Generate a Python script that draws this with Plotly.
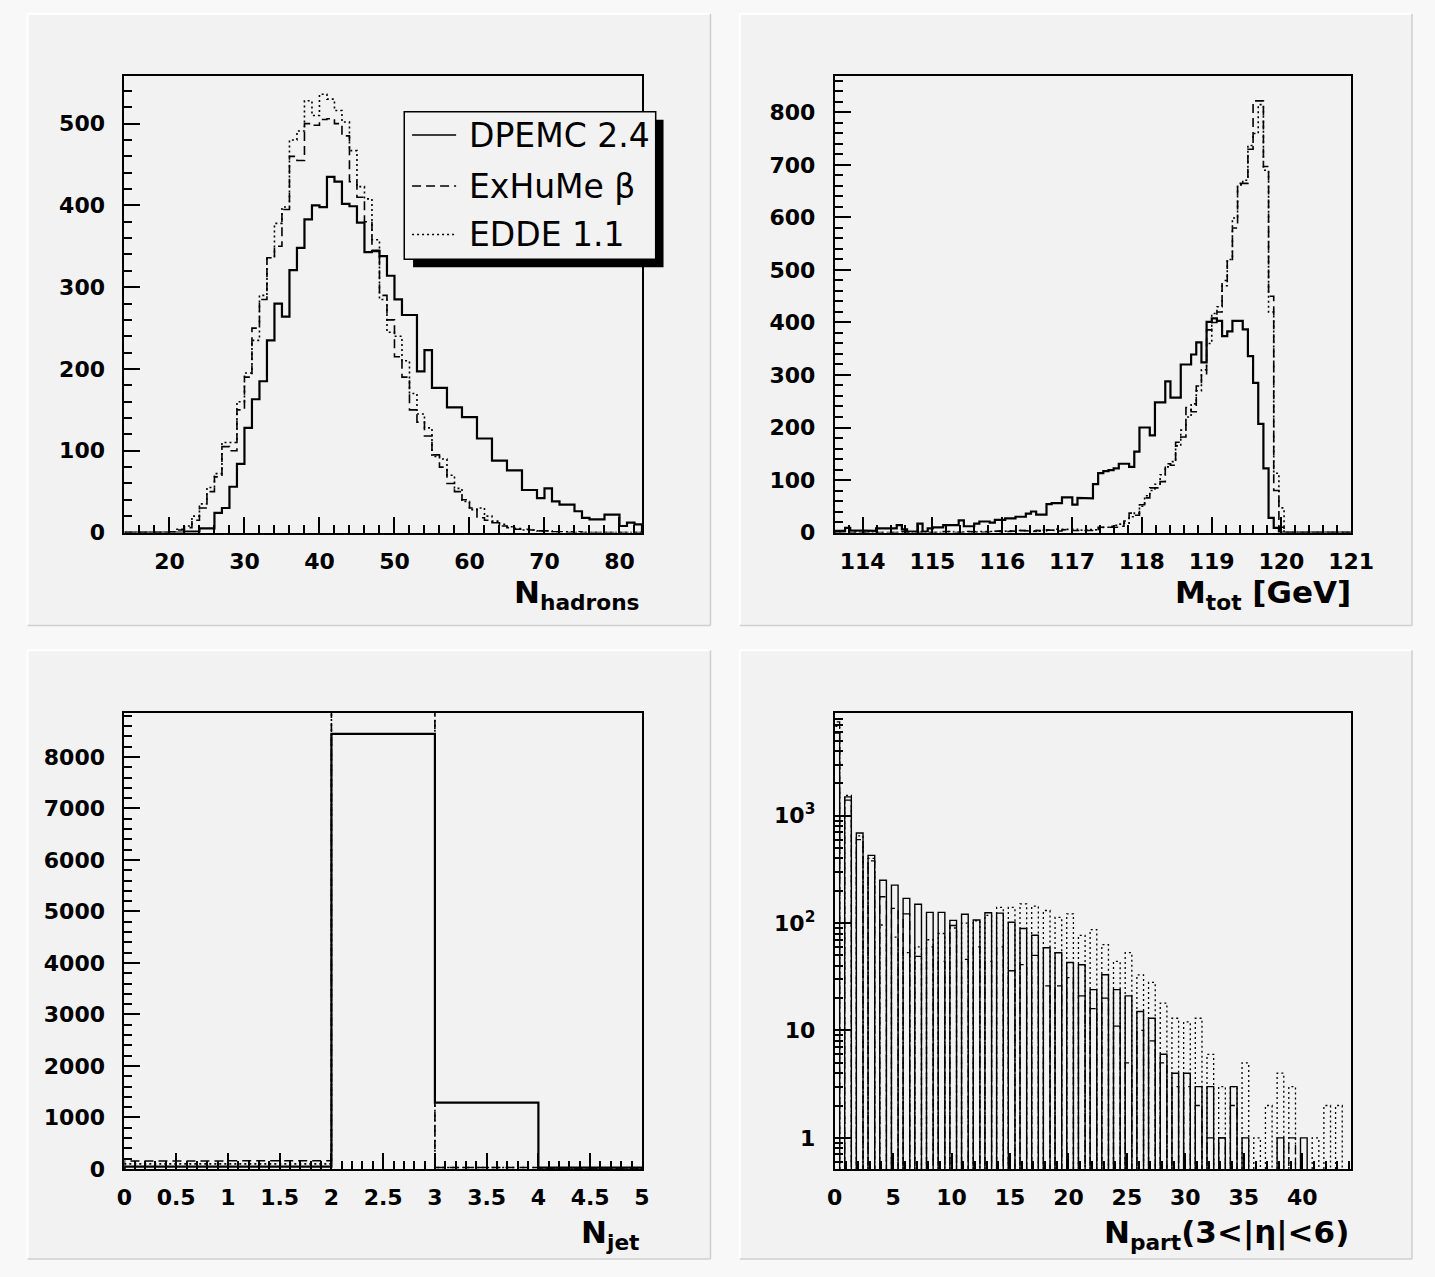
import plotly.graph_objects as go

W, H = 1435, 1277


def px(x):
    return x / W


def py(y):
    return 1 - y / H


# ---------------- data ----------------
# Panel 1: N_hadrons, bins of width 1 starting at 14
nh_start, nh_width = 14, 1
nh_dpemc = [0, 0, 0, 0, 0, 0,
            0, 0, 1, 1, 5, 5, 24, 30, 56, 84,
            128, 163, 185, 235, 280, 264, 321, 348, 383, 400,
            398, 435, 429, 402, 399, 379, 343, 344, 338, 314,
            285, 266, 266, 197, 223, 177, 177, 153, 153, 141,
            141, 115, 115, 88, 88, 76, 76, 52, 52, 42,
            54, 38, 34, 34, 26, 18, 16, 16, 22, 22,
            8, 12, 10]
nh_exhume = [0, 0, 0, 0, 0, 0,
             1, 3, 6, 15, 30, 50, 68, 105, 100, 150,
             190, 250, 285, 336, 350, 395, 460, 455, 500, 498,
             505, 506, 500, 485, 429, 410, 380, 345, 290, 260,
             215, 190, 150, 135, 118, 95, 80, 60, 50, 40,
             30, 18, 15, 12, 8, 6, 4, 4, 3, 2,
             2, 1, 1, 0, 1, 0, 0, 0, 0, 0,
             0, 0, 0]
nh_edde = [0, 0, 0, 0, 0, 0,
           1, 4, 8, 20, 35, 55, 72, 110, 110, 160,
           195, 235, 290, 336, 378, 398, 480, 491, 528, 510,
           536, 530, 516, 502, 467, 423, 408, 358, 285, 245,
           240, 210, 170, 145, 128, 93, 90, 70, 54, 38,
           28, 30, 20, 14, 10, 7, 5, 3, 3, 2,
           2, 1, 1, 1, 0, 0, 0, 0, 0, 0,
           0, 0, 0]

# Panel 2: M_tot [GeV], 100 bins from 113.6 to 121
m_start, m_width = 113.6, 0.074
m_dpemc = [3, 3, 9, 4, 4, 3, 3, 3, 8, 9,
           9, 8, 14, 6, 2, 2, 17, 2, 8, 10,
           10, 14, 14, 14, 23, 12, 12, 17, 21, 21,
           19, 24, 24, 27, 27, 30, 30, 36, 40, 34,
           34, 54, 56, 56, 67, 67, 53, 66, 66, 65,
           92, 113, 117, 119, 122, 131, 131, 125, 154, 200,
           200, 185, 248, 248, 288, 257, 257, 320, 320, 339,
           362, 324, 401, 408, 403, 374, 383, 403, 403, 387,
           336, 285, 207, 122, 28, 9, 0, 0, 0, 0,
           0, 0, 0, 0, 0, 0, 0, 0, 0, 0]
m_exhume = [0, 1, 0, 0, 2, 0, 0, 1, 0, 0,
            1, 0, 0, 2, 0, 1, 0, 0, 1, 0,
            0, 2, 0, 1, 0, 0, 2, 1, 0, 1,
            2, 3, 1, 2, 3, 2, 4, 3, 2, 4,
            3, 5, 4, 3, 5, 6, 4, 5, 4, 4,
            4, 10, 10, 10, 10, 12, 22, 37, 33, 53,
            66, 85, 85, 97, 131, 128, 172, 182, 238, 230,
            279, 300, 386, 400, 420, 480, 517, 580, 665, 665,
            730, 822, 822, 697, 450, 80, 10, 0, 0, 0,
            0, 0, 0, 0, 0, 0, 0, 0, 0, 0]
m_edde = [1, 0, 0, 1, 0, 0, 2, 0, 0, 1,
          0, 1, 0, 0, 1, 0, 2, 0, 0, 1,
          1, 0, 2, 0, 1, 2, 0, 1, 2, 1,
          2, 2, 3, 2, 2, 4, 3, 3, 4, 3,
          5, 4, 4, 6, 5, 5, 6, 4, 5, 6,
          5, 8, 10, 12, 14, 16, 18, 30, 37, 50,
          70, 80, 92, 110, 125, 135, 165, 195, 220, 245,
          270, 310, 360, 417, 430, 470, 520, 599, 662, 671,
          737, 760, 815, 690, 420, 113, 47, 0, 0, 0,
          0, 0, 0, 0, 0, 0, 0, 0, 0, 0]

# Panel 3: N_jet, bins of width 1 from 0 to 5
jet_start, jet_width = 0, 1
jet_dpemc = [45, 45, 8450, 1287, 25]
jet_exhume = [155, 160, 9500, 30, 0]
jet_edde = [100, 100, 9600, 30, 0]

# Panel 4: N_part(3<|eta|<6), one bar per integer
part_n = list(range(44))
part_dpemc = [5900, 1500, 690, 427, 251, 226, 170, 150, 126, 126,
              106, 121, 107, 125, 124, 102, 89, 77, 59, 53,
              43, 41, 24, 33, 24, 21, 15, 13, 6, 4,
              4, 3, 3, 1, 3, 1, 0, 0, 1, 0,
              1, 0, 0, 0]
part_exhume = [7500, 1400, 600, 380, 176, 137, 122, 49, 60, 44,
               95, 46, 60, 44, 60, 36, 41, 50, 26, 26,
               31, 21, 16, 20, 11, 5, 10, 8, 5, 3,
               3, 2, 1, 1, 2, 0, 0, 0, 0, 1,
               0, 0, 0, 0]
part_edde = [6800, 1550, 650, 400, 96, 74, 53, 60, 70, 80,
             90, 100, 105, 118, 140, 140, 151, 144, 131, 113,
             122, 77, 87, 63, 44, 53, 33, 28, 18, 13,
             12, 13, 6, 3, 3, 5, 1, 2, 4, 3,
             0, 1, 2, 2]

labels = ["DPEMC 2.4", "ExHuMe \u03b2", "EDDE 1.1"]
styles = [dict(color="black", width=2.2, dash="solid"),
          dict(color="black", width=1.6, dash="9px,5px"),
          dict(color="black", width=1.6, dash="2px,3px")]


# ---------------- helpers ----------------
def steps(x0, w, vals):
    xs, ys = [x0], [0]
    for i, v in enumerate(vals):
        xa = x0 + i * w
        xs += [xa, xa + w]
        ys += [v, v]
    xs.append(x0 + len(vals) * w)
    ys.append(0)
    return xs, ys


def bars(ns, vals, lo=-0.15, hi=0.42, base=0.3):
    xs, ys = [], []
    for n, v in zip(ns, vals):
        if v <= 0:
            continue
        xs += [n + lo, n + lo, n + hi, n + hi, None]
        ys += [base, v, v, base, None]
    return xs, ys


fig = go.Figure()

panels = [
    ("x", "y", nh_start, nh_width, [nh_dpemc, nh_exhume, nh_edde]),
    ("x2", "y2", m_start, m_width, [m_dpemc, m_exhume, m_edde]),
    ("x3", "y3", jet_start, jet_width, [jet_dpemc, jet_exhume, jet_edde]),
]
for xa, ya, x0, w, series in panels:
    for name, vals, st in zip(labels, series, styles):
        xs, ys = steps(x0, w, vals)
        fig.add_trace(go.Scatter(x=xs, y=ys, mode="lines", name=name, line=st,
                                 xaxis=xa, yaxis=ya, hoverinfo="skip"))

for name, vals, st in zip(labels, [part_dpemc, part_exhume, part_edde], styles):
    xs, ys = bars(part_n, vals)
    fig.add_trace(go.Scatter(x=xs, y=ys, mode="lines", name=name,
                             line=dict(color="black", width=1.4 if st["dash"] == "solid" else 1.3,
                                       dash=st["dash"]),
                             xaxis="x4", yaxis="y4", hoverinfo="skip", connectgaps=False))

# ---------------- axes ----------------
tickfont = dict(family="DejaVu Sans", size=22, color="black", weight="bold")


def ax(**kw):
    d = dict(showline=True, linecolor="black", linewidth=2, mirror=True,
             ticks="inside", ticklen=16, tickwidth=1.5, tickcolor="black",
             showgrid=False, zeroline=False, tickfont=tickfont,
             ticklabelstandoff=8)
    d.update(kw)
    return d


def minor(dt):
    return dict(ticks="inside", ticklen=8, tickwidth=1.5, tickcolor="black",
                showgrid=False, dtick=dt)


xl, xr = px(119), px(648)
xl2, xr2 = px(845), px(1373)
yb, yt = py(538), py(77)
yb2, yt2 = py(1181), py(720)

fig.update_layout(
    xaxis=ax(domain=[xl, xr], anchor="y", range=[14, 83], dtick=10, tick0=0, minor=minor(2)),
    yaxis=ax(domain=[yb, yt], anchor="x", range=[0, 558], dtick=100, minor=minor(20),
             ticklabelstandoff=13),
    xaxis2=ax(domain=[xl2, xr2], anchor="y2", range=[113.6, 121.002], dtick=1, tick0=0, minor=minor(0.2)),
    yaxis2=ax(domain=[yb, yt], anchor="x2", range=[0, 869], dtick=100, minor=minor(20),
              ticklabelstandoff=13),
    xaxis3=ax(domain=[xl, xr], anchor="y3", range=[0, 5.001], dtick=0.5, tick0=0, minor=minor(0.1)),
    yaxis3=ax(domain=[yb2, yt2], anchor="x3", range=[0, 8860], dtick=1000, minor=minor(200),
              ticklabelstandoff=13),
    xaxis4=ax(domain=[xl2, xr2], anchor="y4", range=[0, 44.2], dtick=5, tick0=0, minor=minor(1)),
    yaxis4=ax(domain=[yb2, yt2], anchor="x4", type="log", range=[-0.29, 3.96],
              tickvals=[1, 10, 100, 1000], ticktext=["1", "10", "10<sup>2</sup>", "10<sup>3</sup>"],
              ticklabelstandoff=13,
              minor=dict(ticks="inside", ticklen=8, tickwidth=1.5, tickcolor="black",
                         showgrid=False, dtick="D1")),
)

# ---------------- pads (background boxes) ----------------
shapes = []
pads = [(20, 14, 718, 632), (748, 14, 1435, 632), (20, 657, 718, 1272), (748, 657, 1435, 1272)]
for x0, y0, x1, y1 in pads:
    shapes.append(dict(type="rect", xref="paper", yref="paper", layer="below",
                       x0=px(x0), x1=px(x1), y0=py(y1), y1=py(y0),
                       fillcolor="#f2f2f2", line=dict(width=0)))
    shapes.append(dict(type="line", xref="paper", yref="paper", layer="below",
                       x0=px(x0), x1=px(x1), y0=py(y0), y1=py(y0),
                       line=dict(color="#ffffff", width=2)))
    shapes.append(dict(type="line", xref="paper", yref="paper", layer="below",
                       x0=px(x0), x1=px(x0), y0=py(y1), y1=py(y0),
                       line=dict(color="#ffffff", width=2)))
    shapes.append(dict(type="line", xref="paper", yref="paper", layer="below",
                       x0=px(x1), x1=px(x1), y0=py(y1), y1=py(y0),
                       line=dict(color="#cfcfcf", width=1.5)))
    shapes.append(dict(type="line", xref="paper", yref="paper", layer="below",
                       x0=px(x0), x1=px(x1), y0=py(y1), y1=py(y1),
                       line=dict(color="#cfcfcf", width=1.5)))

# ---------------- legend (panel 1) ----------------
shapes.append(dict(type="rect", xref="paper", yref="paper", layer="above",
                   x0=px(414), x1=px(670), y0=py(270), y1=py(121),
                   fillcolor="black", line=dict(width=0)))
shapes.append(dict(type="rect", xref="paper", yref="paper", layer="above",
                   x0=px(405), x1=px(662), y0=py(262), y1=py(113),
                   fillcolor="#f2f2f2", line=dict(color="black", width=1.5)))
leg_y = [136.5, 188, 237]
for yy, st in zip(leg_y, styles):
    shapes.append(dict(type="line", xref="paper", yref="paper", layer="above",
                       x0=px(413), x1=px(458), y0=py(yy), y1=py(yy),
                       line=dict(color="black", width=1.5, dash=st["dash"])))

annotations = []
for yy, lab in zip(leg_y, labels):
    annotations.append(dict(xref="paper", yref="paper", x=px(469), y=py(yy),
                            xanchor="left", yanchor="middle", text=lab, showarrow=False,
                            font=dict(family="DejaVu Sans", size=33, color="black")))

# ---------------- axis titles ----------------
title_font = dict(family="DejaVu Sans", size=31, color="black", weight="bold")
titles = [
    (648, 601, "N<sub>hadrons</sub>"),
    (1375, 601, "M<sub>tot</sub> [GeV]"),
    (647, 1247, "N<sub>jet</sub>"),
    (1373, 1247, "N<sub>part</sub>(3&lt;|\u03b7|&lt;6)"),
]
for x, y, t in titles:
    annotations.append(dict(xref="paper", yref="paper", x=px(x), y=py(y),
                            xanchor="right", yanchor="middle", text=t, showarrow=False,
                            font=title_font))

fig.update_layout(
    width=W, height=H, margin=dict(l=0, r=0, t=0, b=0),
    paper_bgcolor="#f8f8f8", plot_bgcolor="#f2f2f2",
    showlegend=False, shapes=shapes, annotations=annotations,
)

fig.write_html("out.html")
